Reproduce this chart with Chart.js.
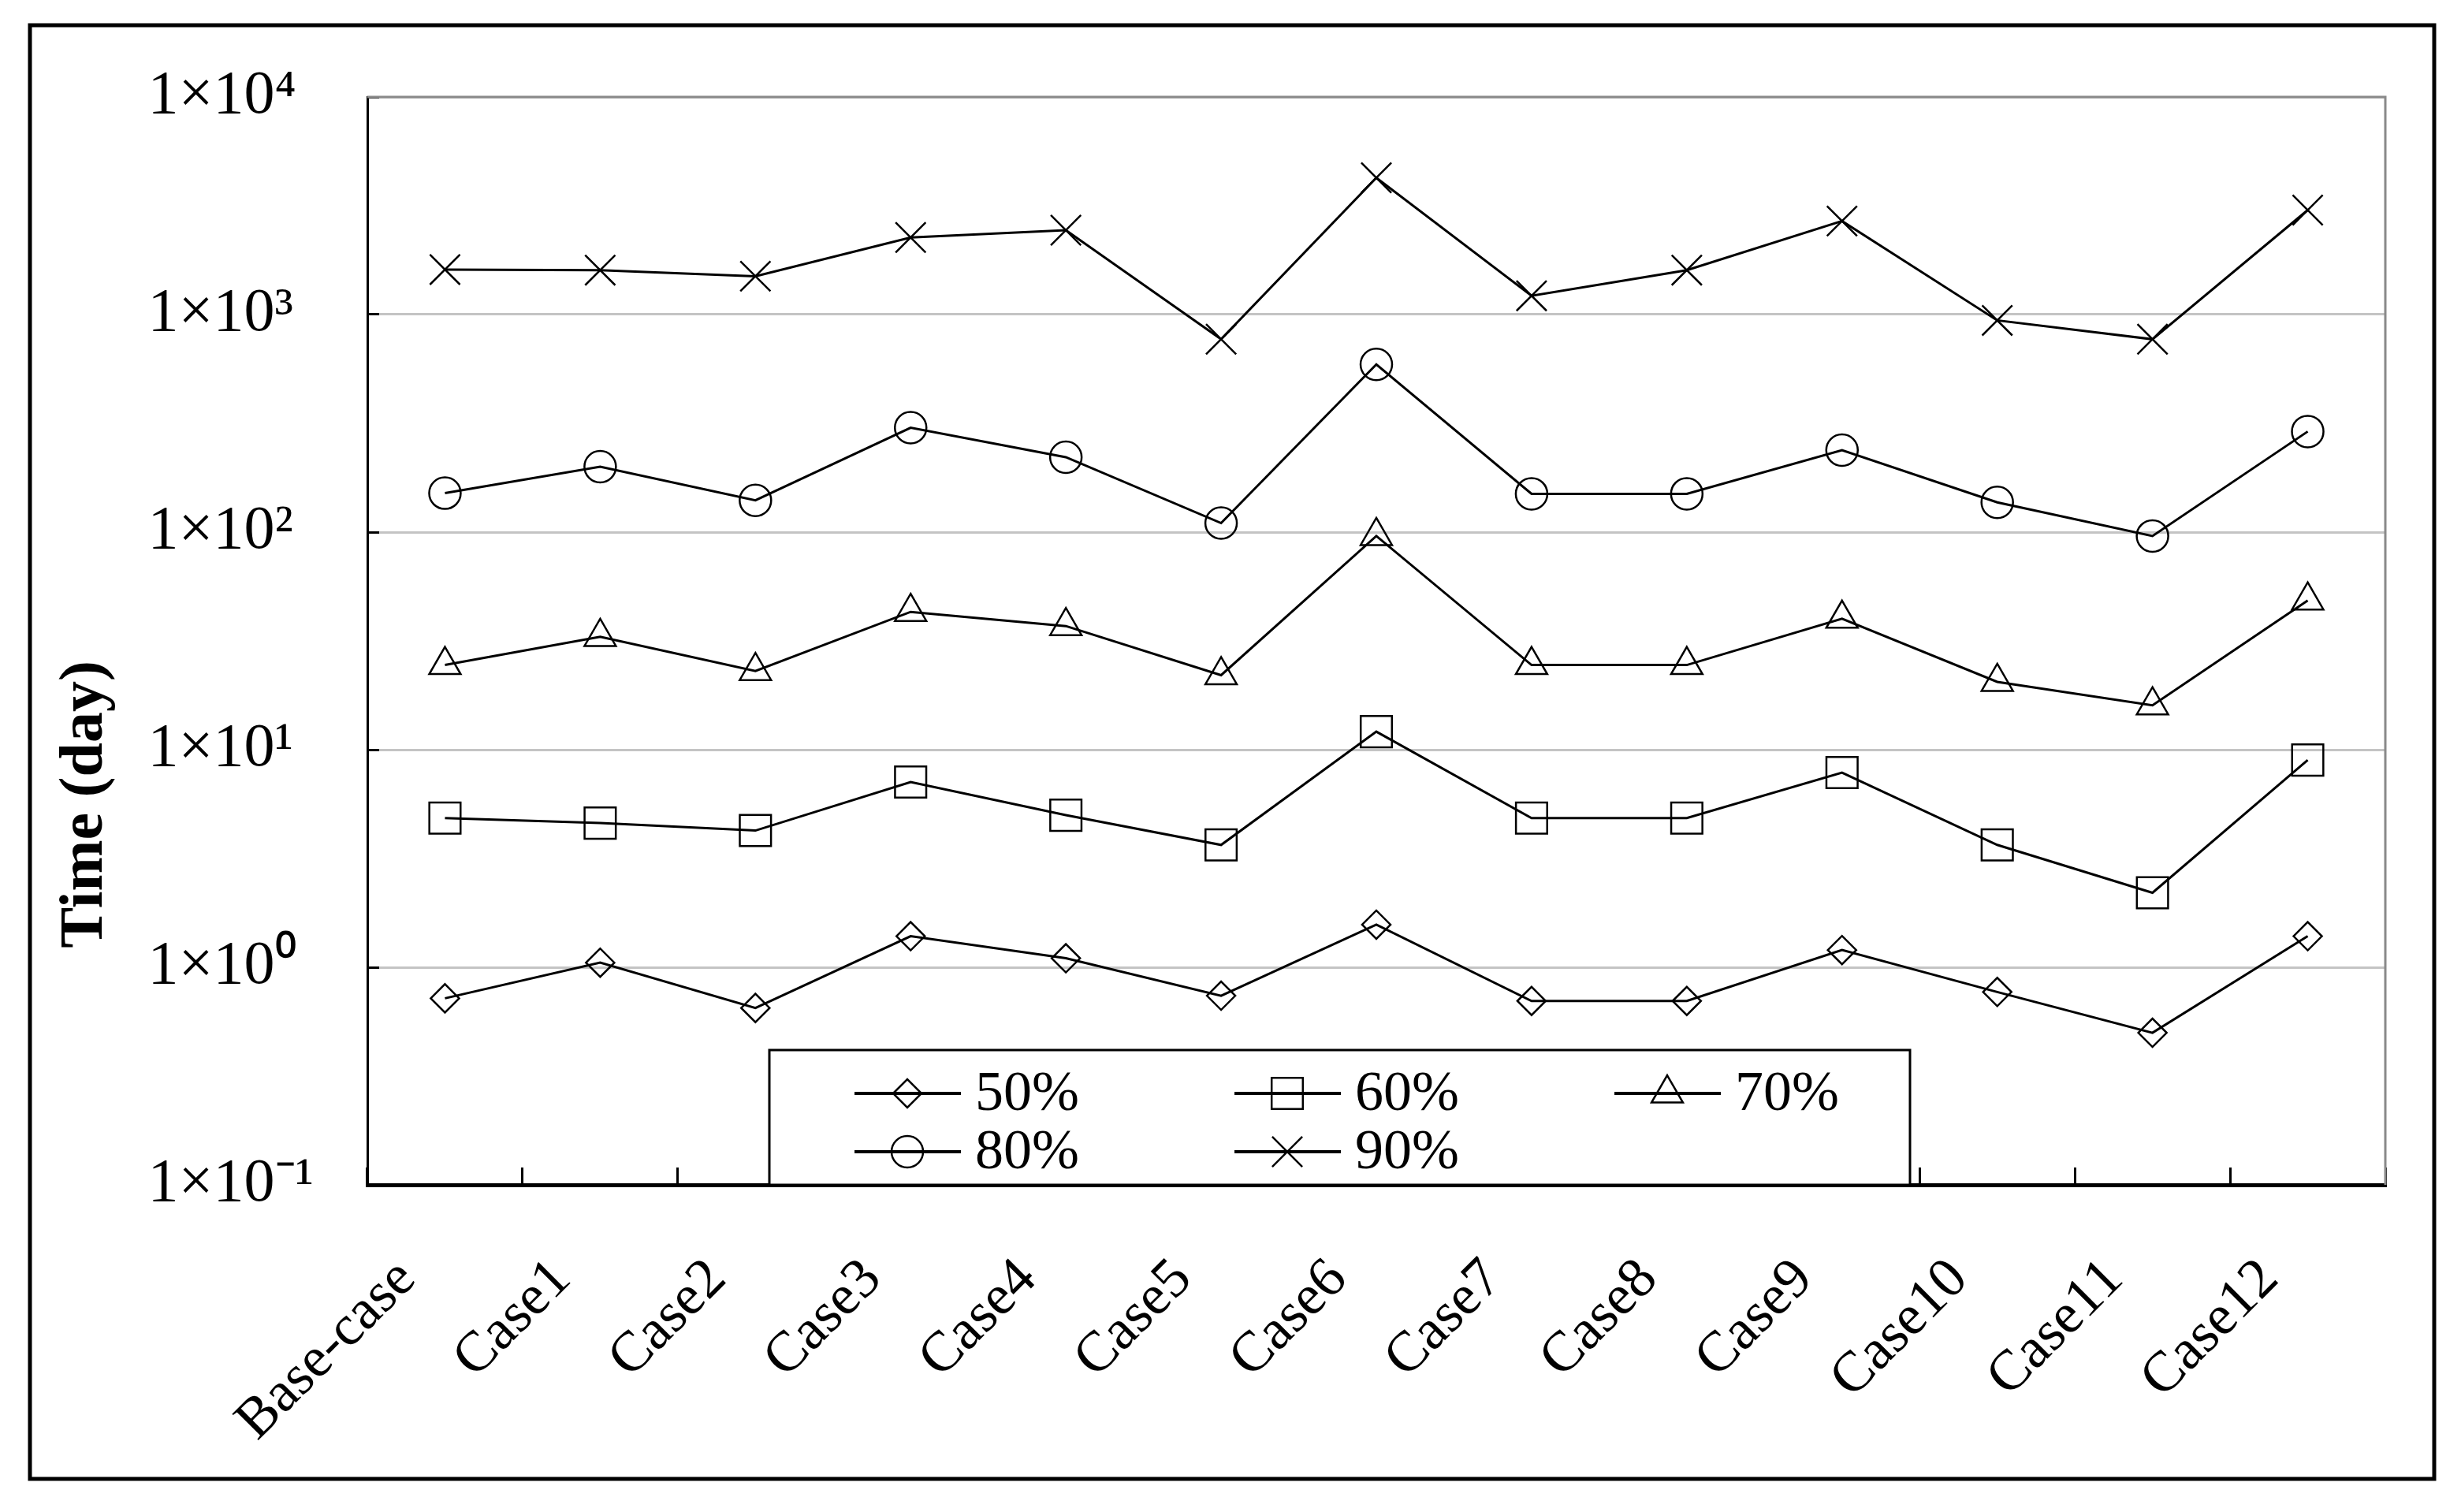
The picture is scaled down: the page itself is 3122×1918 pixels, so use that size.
<!DOCTYPE html>
<html>
<head>
<meta charset="utf-8">
<script src="https://cdn.jsdelivr.net/npm/chart.js@4/dist/chart.umd.min.js"></script>
<style>
  body { margin: 0; background: #fff; }
  #wrap { width: 3122px; height: 1918px; }
</style>
</head>
<body>
<div id="wrap"><canvas id="timeChart"></canvas></div>
<script>
// categories and series (time in days)
const cases = ['Base-case', 'Case1', 'Case2', 'Case3', 'Case4', 'Case5', 'Case6',
  'Case7', 'Case8', 'Case9', 'Case10', 'Case11', 'Case12'];
const t50 = [0.72, 1.05, 0.65, 1.39, 1.10, 0.74, 1.57, 0.70, 0.70, 1.20, 0.77, 0.50, 1.39];
const t60 = [4.85, 4.6, 4.25, 7.1, 5.0, 3.65, 12.1, 4.85, 4.85, 7.85, 3.65, 2.2, 8.96];
const t70 = [24.5, 33, 23, 43, 37, 22, 96, 24.5, 24.5, 40, 20.5, 16, 48.5];
const t80 = [151, 200, 140, 302, 221, 110, 590, 150, 150, 238, 137, 96, 290];
const t90 = [1610, 1600, 1500, 2260, 2440, 770, 4250, 1220, 1600, 2690, 940, 770, 3020];
const seriesNames = ['50%', '60%', '70%', '80%', '90%'];
const yTickValues = [0.1, 1, 10, 100, 1000, 10000];
const yTickLabels = ['1×10⁻¹', '1×10⁰', '1×10¹', '1×10²', '1×10³', '1×10⁴'];

const serif = "'Liberation Serif', 'Times New Roman', serif";

function makeSet(label, data, style, radius) {
  return {
    label: label,
    data: data,
    borderColor: '#000',
    borderWidth: 3,
    pointStyle: style,
    pointRadius: radius,
    pointBorderWidth: 2.5,
    pointBorderColor: '#000',
    pointBackgroundColor: 'rgba(0,0,0,0)',
    tension: 0
  };
}

// white page + outer frame
const pageFrame = {
  id: 'pageFrame',
  beforeDraw(chart) {
    const ctx = chart.ctx;
    ctx.save();
    ctx.fillStyle = '#fff';
    ctx.fillRect(0, 0, chart.width, chart.height);
    ctx.strokeStyle = '#000';
    ctx.lineWidth = 5;
    ctx.strokeRect(38, 32, chart.width - 34 - 38, chart.height - 42 - 32);
    ctx.restore();
  },
  beforeDatasetsDraw(chart) {
    // grey top and right edges of the plot area
    const a = chart.chartArea;
    const ctx = chart.ctx;
    ctx.save();
    ctx.strokeStyle = '#8a8a8a';
    ctx.lineWidth = 3;
    ctx.beginPath();
    ctx.moveTo(a.left, a.top);
    ctx.lineTo(a.right, a.top);
    ctx.lineTo(a.right, a.bottom);
    ctx.stroke();
    ctx.restore();
  }
};

// boxed legend sitting on the x axis, three columns
const boxLegend = {
  id: 'boxLegend',
  afterDraw(chart) {
    const a = chart.chartArea;
    const ctx = chart.ctx;
    const left = a.left + 510, right = a.left + 1957, top = a.bottom - 171;
    ctx.save();
    ctx.fillStyle = '#fff';
    ctx.fillRect(left, top, right - left, a.bottom - top);
    ctx.strokeStyle = '#000';
    ctx.lineWidth = 3;
    ctx.strokeRect(left, top, right - left, a.bottom - top);
    ctx.font = '72px ' + serif;
    ctx.fillStyle = '#000';
    ctx.textBaseline = 'middle';
    chart.data.datasets.forEach(function (ds, i) {
      const col = i % 3, row = Math.floor(i / 3);
      const x0 = left + 108 + col * 482;
      const y0 = top + 55 + row * 74;
      ctx.strokeStyle = '#000';
      ctx.lineWidth = 4;
      ctx.beginPath();
      ctx.moveTo(x0, y0);
      ctx.lineTo(x0 + 135, y0);
      ctx.stroke();
      ctx.lineWidth = 2.5;
      ctx.fillStyle = 'rgba(0,0,0,0)';
      Chart.helpers.drawPoint(ctx, { pointStyle: ds.pointStyle, radius: ds.pointRadius, rotation: 0, borderWidth: 2.5 }, x0 + 67, y0);
      ctx.fillStyle = '#000';
      ctx.fillText(ds.label, x0 + 153, y0 + 2);
    });
    ctx.restore();
  }
};

new Chart(document.getElementById('timeChart'), {
  type: 'line',
  data: {
    labels: cases,
    datasets: [
      makeSet(seriesNames[0], t50, 'rectRot', 18),
      makeSet(seriesNames[1], t60, 'rect', 28),
      makeSet(seriesNames[2], t70, 'triangle', 23),
      makeSet(seriesNames[3], t80, 'circle', 20),
      makeSet(seriesNames[4], t90, 'crossRot', 27)
    ]
  },
  options: {
    responsive: true,
    maintainAspectRatio: false,
    animation: false,
    devicePixelRatio: 1,
    layout: { padding: { left: 52, top: 123, right: 96, bottom: 0 } },
    plugins: {
      legend: { display: false },
      tooltip: { enabled: false },
      title: {
        display: true,
        text: 'Time (day)',
        position: 'left',
        color: '#000',
        font: { family: serif, size: 78, weight: 'bold' },
        padding: { top: 10, bottom: 32 }
      }
    },
    scales: {
      x: {
        offset: true,
        grid: {
          offset: true,
          drawOnChartArea: false,
          tickLength: -22,
          tickWidth: 3,
          tickColor: '#000'
        },
        border: { color: '#000', width: 5 },
        ticks: {
          autoSkip: false,
          minRotation: 45,
          maxRotation: 45,
          padding: 100,
          labelOffset: -48,
          color: '#000',
          font: { family: serif, size: 72 }
        },
        afterFit: function (s) { s.height = 415; }
      },
      y: {
        type: 'logarithmic',
        min: 0.1,
        max: 10000,
        afterBuildTicks: function (s) {
          s.ticks = yTickValues.map(function (v) { return { value: v }; });
        },
        grid: {
          color: '#c4c4c4',
          lineWidth: 3,
          tickLength: -15,
          tickWidth: 3,
          tickColor: '#000'
        },
        border: { color: '#000', width: 3 },
        ticks: {
          crossAlign: 'far',
          color: '#000',
          font: { family: serif, size: 78 },
          callback: function (v, i) { return yTickLabels[i]; }
        },
        afterFit: function (s) { s.width = 278.4; }
      }
    }
  },
  plugins: [pageFrame, boxLegend]
});
</script>
</body>
</html>
